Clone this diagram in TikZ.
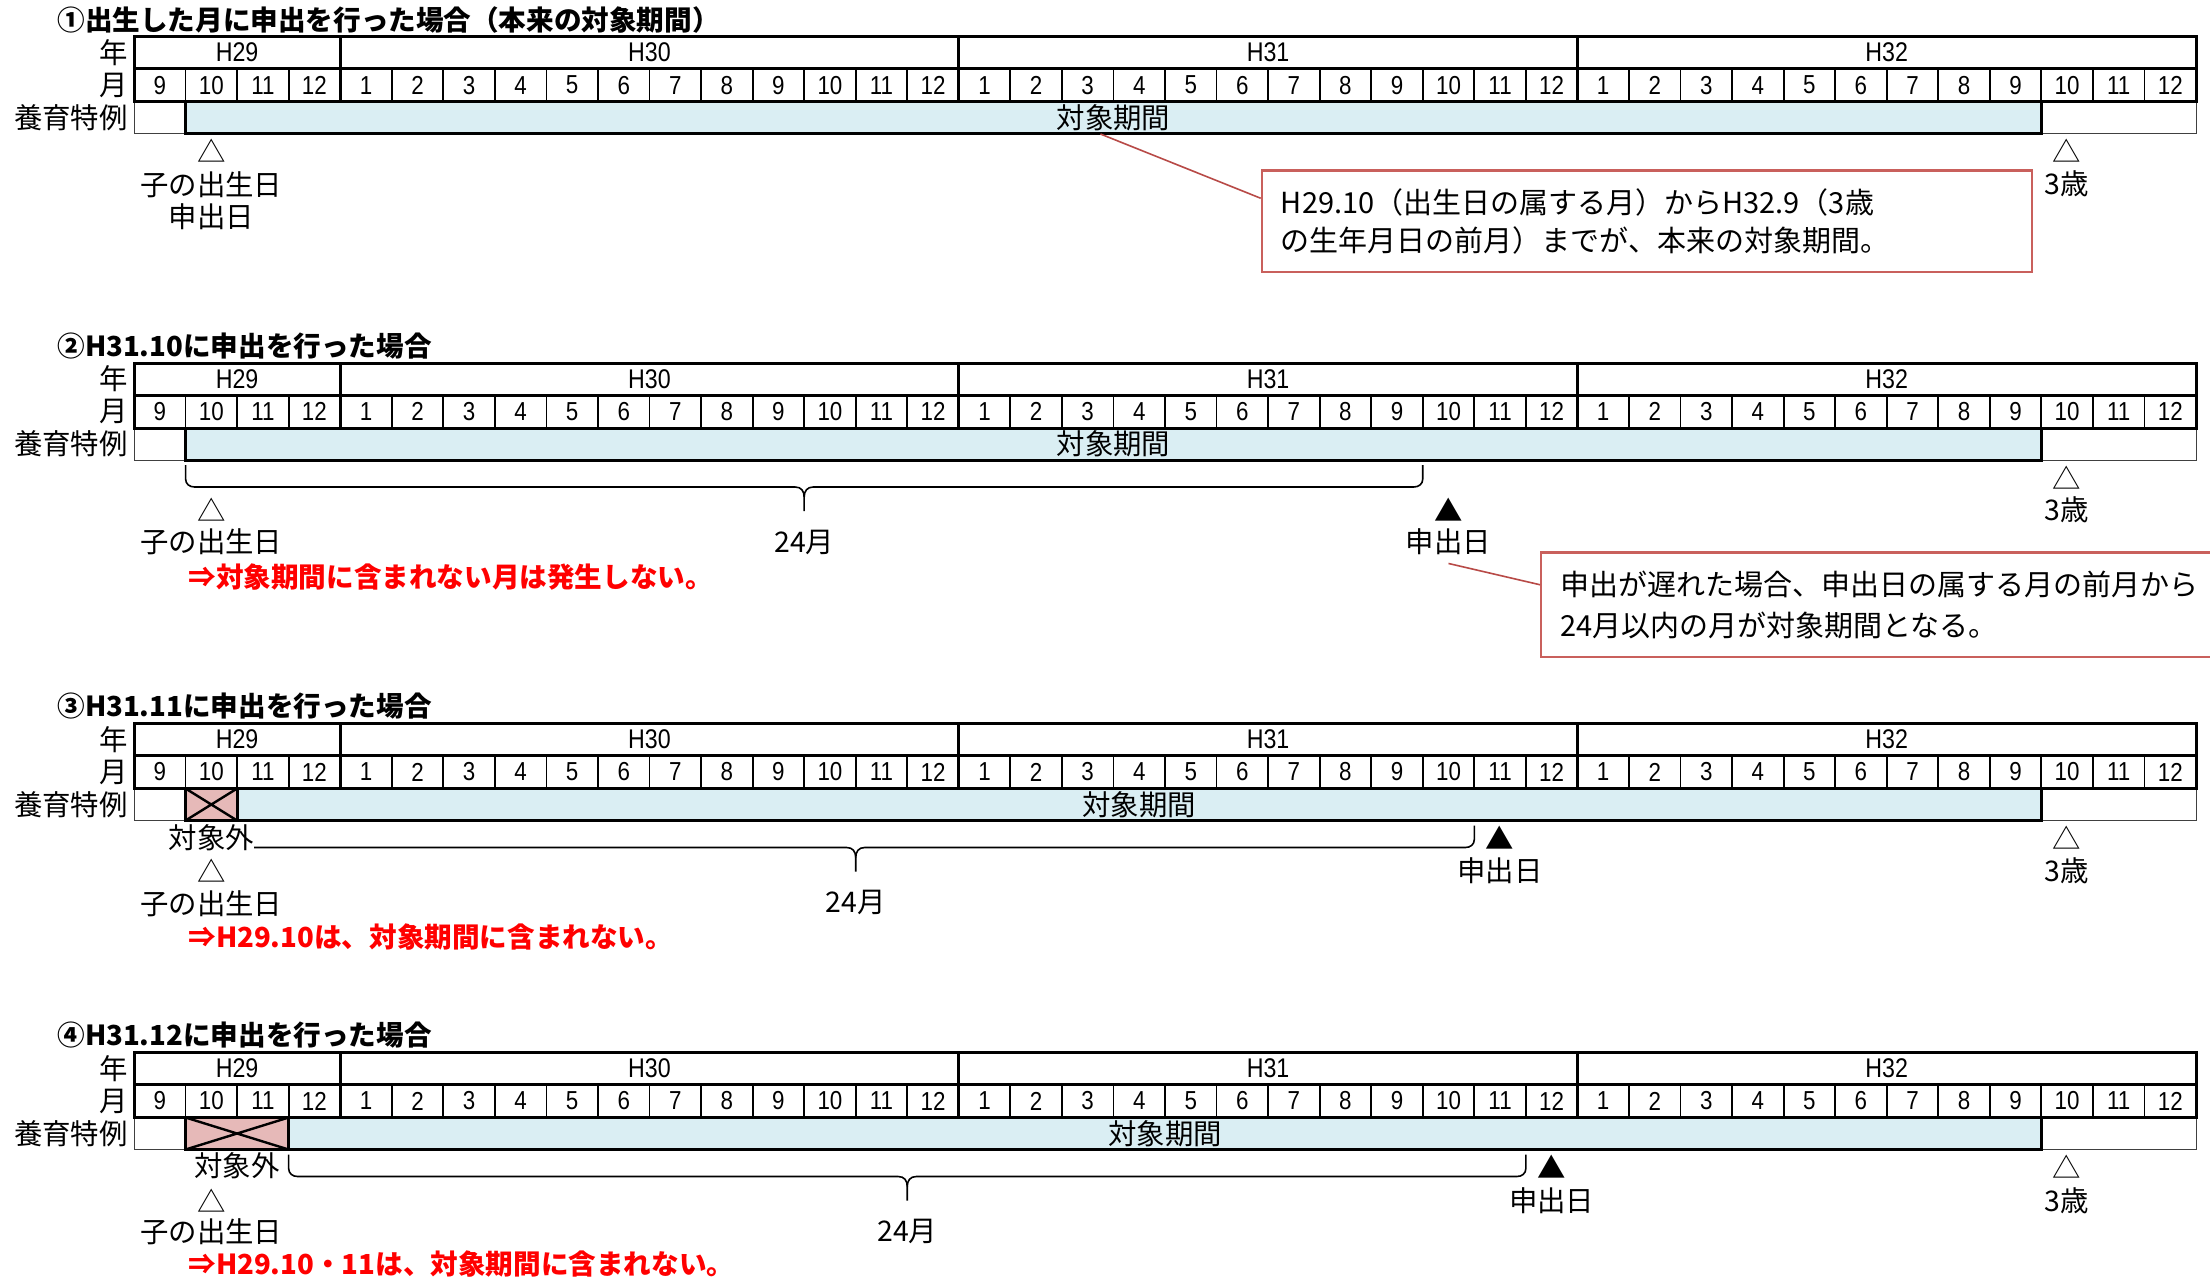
\documentclass[tikz,border=0pt]{standalone}
\usepackage{fontspec}
\setmainfont{Noto Sans CJK JP}
\newfontfamily\arialf[FakeStretch=0.86]{Liberation Sans}
\definecolor{periodblue}{HTML}{DAEEF3}
\definecolor{outpink}{HTML}{E6B9B8}
\definecolor{callred}{HTML}{C9605C}
\definecolor{lnred}{HTML}{B84A47}
\definecolor{redtxt}{HTML}{FF0000}
\tikzset{
  thickl/.style={line width=1.5pt},
  midl/.style={line width=0.9pt},
  thinl/.style={line width=0.5pt,draw=black!75},
  xline/.style={line width=1.2pt},
  bracel/.style={line width=0.8pt},
  jp/.style={font=\fontsize{14.2}{17}\selectfont,inner sep=0pt},
  num/.style={font=\arialf\fontsize{13}{15}\selectfont,inner sep=0pt},
  yr/.style={font=\arialf\fontsize{13.5}{15}\selectfont,inner sep=0pt},
  titlef/.style={font=\bfseries\fontsize{13.8}{16}\selectfont,inner sep=0pt,anchor=west},
  redf/.style={font=\bfseries\fontsize{13.8}{16}\selectfont,text=redtxt,inner sep=0pt,anchor=west},
  callbox/.style={draw=callred,line width=1.2pt,align=left,inner xsep=9.5pt,inner ysep=0pt,font=\fontsize{14.5}{19}\selectfont},
  callline/.style={draw=lnred,line width=0.8pt},
}
\newcommand{\monthtable}[3]{%
  \pgfmathsetmacro\tbBx{134+#3*51.55}%
  \pgfmathsetmacro\tbCx{(\tbBx+2041.35)/2}%
  \draw[thinl] (134,#1+65) rectangle (185.55,#1+97);
  \draw[thinl] (2041.35,#1+65) rectangle (2196,#1+97);
  \ifnum#3>1
    \filldraw[fill=outpink,thickl] (185.55,#1+65) rectangle (\tbBx,#1+97);
    \draw[xline] (185.55,#1+65) -- (\tbBx,#1+97) (185.55,#1+97) -- (\tbBx,#1+65);
  \fi
  \filldraw[fill=periodblue,thickl] (\tbBx,#1+65) rectangle (2041.35,#1+97);
  \node[jp,minimum height=16pt] (#2per) at (\tbCx,#1+81) {対象期間};
  \foreach \i in {1,...,39} {\draw[midl] ({134+\i*51.55},#1+32) -- ({134+\i*51.55},#1+65);}
  \foreach \xx in {340.2,958.8,1577.4} {\draw[thickl] (\xx,#1) -- (\xx,#1+65);}
  \draw[thickl] (134,#1) rectangle (2196,#1+65);
  \draw[thickl] (134,#1+32) -- (2196,#1+32);
  \node[jp,anchor=east] (#2ly) at (128,#1+16) {年};
  \node[jp,anchor=east] (#2lm) at (128,#1+48.5) {月};
  \node[jp,anchor=east] (#2ls) at (128,#1+81) {養育特例};
  \node[yr] (#2y29) at (237.1,#1+16) {H29};
  \node[yr] (#2y30) at (649.5,#1+16) {H30};
  \node[yr] (#2y31) at (1268.1,#1+16) {H31};
  \node[yr] (#2y32) at (1886.7,#1+16) {H32};
  \foreach \i in {0,...,39} {%
    \pgfmathtruncatemacro\mm{mod(\i+8,12)+1}%
    \node[num] (#2m\i) at ({134+(\i+0.5)*51.55},#1+48.5) {\mm};}
}
\newcommand{\monthbrace}[3]{%
  \pgfmathsetmacro\brM{(#1+#2)/2}%
  \draw[bracel] (#1,#3+5) -- (#1,#3+19) .. controls (#1,#3+24) and (#1+4,#3+27) .. (#1+9,#3+27) -- (\brM-9,#3+27) .. controls (\brM-3,#3+27) and (\brM,#3+31) .. (\brM,#3+37) -- (\brM,#3+51);
  \draw[bracel] (#2,#3+5) -- (#2,#3+19) .. controls (#2,#3+24) and (#2-4,#3+27) .. (#2-9,#3+27) -- (\brM+9,#3+27) .. controls (\brM+3,#3+27) and (\brM,#3+31) .. (\brM,#3+37);
}
\begin{document}
\begin{tikzpicture}[x=0.5pt,y=-0.5pt]
\useasboundingbox (0,0) rectangle (2210,1281);
\clip (0,0) rectangle (2210,1281);
\fill[white] (0,0) rectangle (2210,1281);

% ---------- Section 1 ----------
\node[titlef] (t1) at (57,19.6) {①出生した月に申出を行った場合（本来の対象期間）};
\monthtable{36.6}{a}{1}
\node[jp] (atri1) at (211.3,150.6) {△};
\node[jp] (abirth) at (211.3,184.6) {子の出生日};
\node[jp] (aapp) at (211.3,216.6) {申出日};
\node[jp] (atri3) at (2067,150.6) {△};
\node[jp] (aage) at (2067,183.6) {3歳};
\node[callbox,text width=366pt,minimum height=50.75pt] (acall) at (1646.9,221.25)
  {H29.10（出生日の属する月）からH32.9（3歳\\の生年月日の前月）までが、本来の対象期間。};
\draw[callline] ([xshift=-6.5pt]aper.south) -- ([yshift=11.5pt]acall.west);

% ---------- Section 2 ----------
\node[titlef] (t2) at (57,346) {②H31.10に申出を行った場合};
\monthtable{363}{b}{1}
\monthbrace{185.6}{1422.75}{460}
\node[jp] (btri1) at (211.3,510) {△};
\node[jp] (bbirth) at (211.3,542) {子の出生日};
\node[jp] (b24) at (804.2,542) {24月};
\node[jp] (btri2) at (1448.5,510) {▲};
\node[jp] (bapp) at (1448.5,542) {申出日};
\node[jp] (btri3) at (2067,478) {△};
\node[jp] (bage) at (2067,510) {3歳};
\node[redf] (bred) at (188,577) {⇒対象期間に含まれない月は発生しない。};
\node[callbox,text width=340pt,minimum height=52.25pt,font=\fontsize{14.5}{20.5}\selectfont] (bcall) at (1900.25,604.75)
  {申出が遅れた場合、申出日の属する月の前月から\\24月以内の月が対象期間となる。};
\draw[callline] ([yshift=-4pt]bapp.south) -- ([yshift=10pt]bcall.west);

% ---------- Section 3 ----------
\node[titlef] (t3) at (57,706.5) {③H31.11に申出を行った場合};
\monthtable{723.5}{c}{2}
\monthbrace{237.1}{1474.3}{820.5}
\node[jp,fill=white] (cout) at (211.3,837.5) {対象外};
\node[jp] (ctri1) at (211.3,870.5) {△};
\node[jp] (cbirth) at (211.3,903.5) {子の出生日};
\node[jp] (c24) at (855.7,902.5) {24月};
\node[jp] (ctri2) at (1500,837.5) {▲};
\node[jp] (capp) at (1500,870.5) {申出日};
\node[jp] (ctri3) at (2067,837.5) {△};
\node[jp] (cage) at (2067,870.5) {3歳};
\node[redf] (cred) at (188,937.5) {⇒H29.10は、対象期間に含まれない。};

% ---------- Section 4 ----------
\node[titlef] (t4) at (57,1035.5) {④H31.12に申出を行った場合};
\monthtable{1052.5}{d}{3}
\monthbrace{288.65}{1525.85}{1149.5}
\node[jp] (dout) at (237.1,1165.5) {対象外};
\node[jp] (dtri1) at (211.3,1200.5) {△};
\node[jp] (dbirth) at (211.3,1231.5) {子の出生日};
\node[jp] (d24) at (907.25,1231.5) {24月};
\node[jp] (dtri2) at (1551.6,1166.5) {▲};
\node[jp] (dapp) at (1551.6,1200.5) {申出日};
\node[jp] (dtri3) at (2067,1166.5) {△};
\node[jp] (dage) at (2067,1200.5) {3歳};
\node[redf] (dred) at (188,1264.5) {⇒H29.10・11は、対象期間に含まれない。};
\end{tikzpicture}
\end{document}
